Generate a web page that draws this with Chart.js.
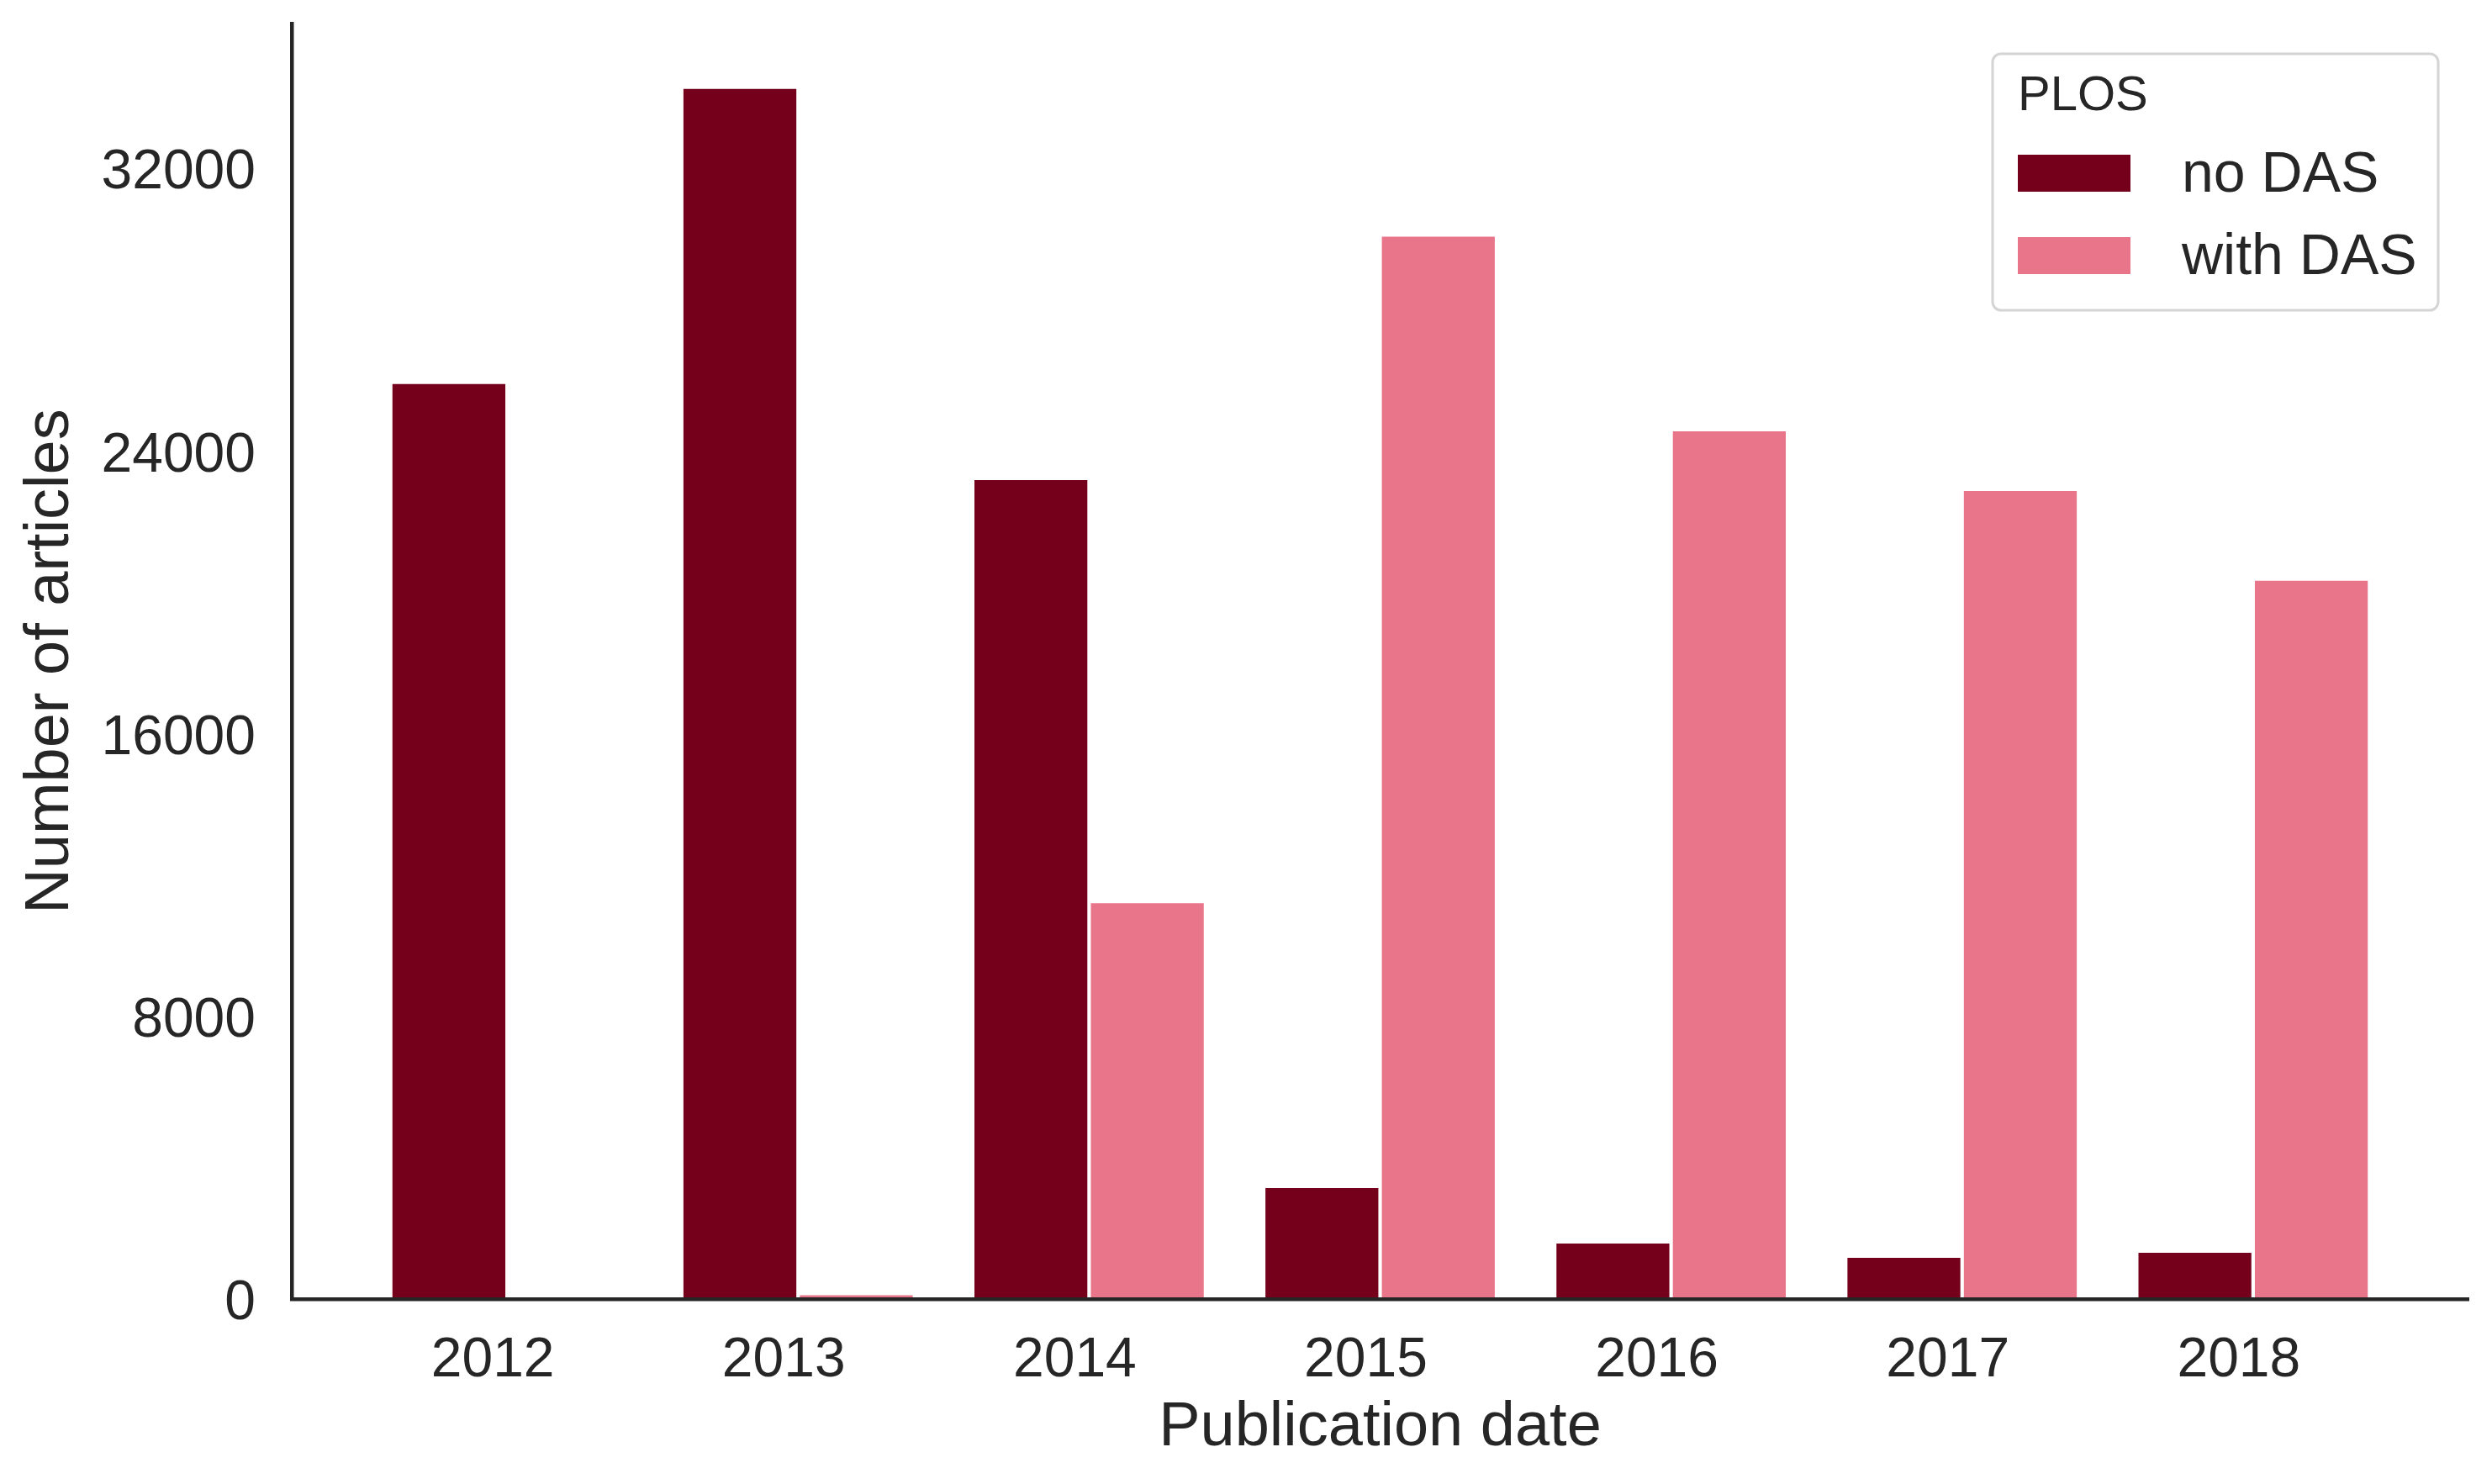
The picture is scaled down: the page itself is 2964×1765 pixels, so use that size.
<!DOCTYPE html>
<html>
<head>
<meta charset="utf-8">
<script src="https://cdn.jsdelivr.net/npm/chart.js@4.4.0/dist/chart.umd.min.js"></script>
<style>
  body { margin: 0; background: #fff; }
  canvas { display: block; }
</style>
</head>
<body>
<canvas id="myChart" width="2964" height="1765"></canvas>
<script>
const years = ['2012', '2013', '2014', '2015', '2016', '2017', '2018'];
const noDas = [25900, 34250, 23180, 3140, 1570, 1165, 1310];
const withDas = [0, 110, 11200, 30070, 24560, 22870, 20330];
const yTicks = [0, 8000, 16000, 24000, 32000];

const fontFamily = '"Liberation Sans", Arial, sans-serif';
const textColor = '#262626';
const darkRed = '#75001b';
const pink = '#e8758a';

// legend box drawn by hand (seaborn style, inside the plot)
const boxLegend = {
    id: 'boxLegend',
    afterDraw(chart) {
        const c = chart.ctx;
        const a = chart.chartArea;
        const x = a.right - 566, y = a.top + 36, w = 530, h = 305;
        c.save();
        c.fillStyle = 'rgba(255,255,255,0.85)';
        c.strokeStyle = '#d4d4d4';
        c.lineWidth = 3;
        c.beginPath();
        c.roundRect(x, y, w, h, 10);
        c.fill();
        c.stroke();
        c.fillStyle = textColor;
        c.textBaseline = 'middle';
        c.textAlign = 'left';
        c.font = '58px ' + fontFamily;
        c.fillText('PLOS', x + 30, y + 51);
        chart.data.datasets.forEach((ds, i) => {
            const cy = y + 142 + i * 98;
            c.fillStyle = ds.backgroundColor;
            c.fillRect(x + 30, cy - 22, 134, 44);
            c.fillStyle = textColor;
            c.font = '68px ' + fontFamily;
            c.fillText(ds.label, x + 225, cy + 3);
        });
        c.restore();
    }
};

new Chart(document.getElementById('myChart'), {
    type: 'bar',
    data: {
        datasets: [{
            label: 'no DAS',
            data: noDas.map((v, i) => ({ x: i, y: v })),
            backgroundColor: darkRed,
            borderWidth: 0,
            categoryPercentage: 0.8,
            barPercentage: 0.97
        }, {
            label: 'with DAS',
            data: withDas.map((v, i) => ({ x: i, y: v })),
            backgroundColor: pink,
            borderWidth: 0,
            categoryPercentage: 0.8,
            barPercentage: 0.97
        }]
    },
    options: {
        responsive: false,
        animation: false,
        devicePixelRatio: 1,
        layout: { padding: { left: 0, top: 28, right: 28, bottom: 0 } },
        plugins: {
            legend: { display: false },
            tooltip: { enabled: false }
        },
        scales: {
            x: {
                type: 'linear',
                min: -0.74,
                max: 6.74,
                offset: false,
                afterFit: s => {
                    s.height = 220;
                    s.paddingLeft = 0;
                    s.paddingRight = 0;
                },
                afterBuildTicks: s => { s.ticks = years.map((_, i) => ({ value: i })); },
                grid: { display: false, drawTicks: false },
                border: { display: true, color: textColor, width: 4.5, z: 1 },
                ticks: {
                    callback: v => years[v],
                    color: textColor,
                    font: { family: fontFamily, size: 66 },
                    padding: 34,
                    labelOffset: -17,
                    maxRotation: 0,
                    autoSkip: false
                },
                title: {
                    display: true,
                    text: 'Publication date',
                    color: textColor,
                    font: { family: fontFamily, size: 74 },
                    padding: { top: 0, bottom: 22 }
                }
            },
            y: {
                min: 0,
                max: 36100,
                afterFit: s => {
                    s.width = 347;
                    s.paddingTop = 0;
                    s.paddingBottom = 0;
                },
                afterBuildTicks: s => { s.ticks = yTicks.map(v => ({ value: v })); },
                grid: { display: false, drawTicks: false },
                border: { display: true, color: textColor, width: 4.5, z: 1 },
                ticks: {
                    callback: v => String(v),
                    color: textColor,
                    font: { family: fontFamily, size: 66 },
                    padding: 43,
                    labelOffset: 6
                },
                title: {
                    display: true,
                    text: 'Number of articles',
                    color: textColor,
                    font: { family: fontFamily, size: 74 },
                    padding: { top: 16, bottom: 0 }
                }
            }
        }
    },
    plugins: [boxLegend]
});
</script>
</body>
</html>
